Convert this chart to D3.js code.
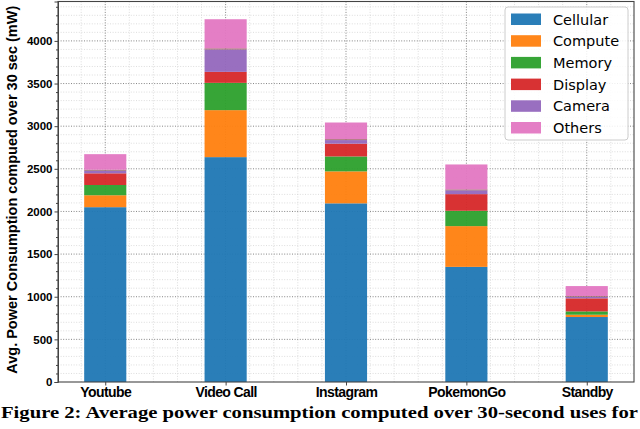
<!DOCTYPE html>
<html>
<head>
<meta charset="utf-8">
<script src="https://cdn.jsdelivr.net/npm/d3@7"></script>
<style>
  body { margin: 0; background: #fff; }
  svg { display: block; }
</style>
</head>
<body>
<div id="chart"></div>
<script>
// Data
const apps = ["Youtube", "Video Call", "Instagram", "PokemonGo", "Standby"];
const components = ["Cellular", "Compute", "Memory", "Display", "Camera", "Extra", "Others"];
const cellular = [2050, 2637, 2095, 1350, 762];
const compute = [140, 551, 375, 478, 27];
const memory = [120, 320, 175, 180, 39];
const display = [137, 129, 150, 195, 153];
const camera = [32, 263, 42, 45, 18];
const extra = [10, 12, 10, 10, 8];
const others = [183, 342, 196, 293, 118];
const yTicks = [0, 500, 1000, 1500, 2000, 2500, 3000, 3500, 4000];
const legendNames = ["Cellular", "Compute", "Memory", "Display", "Camera", "Others"];

const colors = {
  Cellular: "#1f77b4", Compute: "#ff7f0e", Memory: "#2ca02c",
  Display: "#d62728", Camera: "#9467bd", Extra: "#8c564b", Others: "#e377c2"
};

const W = 640, H = 429;
const plot = { left: 58, right: 634, top: 1.5, bottom: 382 };

const rows = apps.map((a, i) => ({
  app: a, i: i,
  Cellular: cellular[i], Compute: compute[i], Memory: memory[i],
  Display: display[i], Camera: camera[i], Extra: extra[i], Others: others[i]
}));

const svg = d3.select("#chart").append("svg")
  .attr("width", W).attr("height", H);

// Scales
const x = d3.scaleLinear().domain([-0.3925, 4.3925]).range([plot.left, plot.right]);
const y = d3.scaleLinear().domain([0, 4462]).range([plot.bottom, plot.top]);
const barW = 0.35;

// Grid, minor first
const minorX = d3.range(-0.2, 4.3, 0.2).filter(v => Math.abs(v - Math.round(v)) > 0.01);
const minorY = d3.range(100, 4462, 100).filter(v => v % 500 !== 0);

svg.append("g").selectAll("line").data(minorX).enter().append("line")
  .attr("x1", d => x(d)).attr("x2", d => x(d))
  .attr("y1", plot.top).attr("y2", plot.bottom)
  .attr("stroke", "#cfcfcf").attr("stroke-width", 0.7).attr("stroke-dasharray", "1,1.6");
svg.append("g").selectAll("line").data(minorY).enter().append("line")
  .attr("x1", plot.left).attr("x2", plot.right)
  .attr("y1", d => y(d)).attr("y2", d => y(d))
  .attr("stroke", "#cfcfcf").attr("stroke-width", 0.7).attr("stroke-dasharray", "1,1.6");

svg.append("g").selectAll("line").data(d3.range(apps.length)).enter().append("line")
  .attr("x1", d => x(d)).attr("x2", d => x(d))
  .attr("y1", plot.top).attr("y2", plot.bottom)
  .attr("stroke", "#777").attr("stroke-width", 0.9).attr("stroke-dasharray", "1,1.6");
svg.append("g").selectAll("line").data(yTicks.slice(1)).enter().append("line")
  .attr("x1", plot.left).attr("x2", plot.right)
  .attr("y1", d => y(d)).attr("y2", d => y(d))
  .attr("stroke", "#777").attr("stroke-width", 0.9).attr("stroke-dasharray", "1,1.6");

// Stacked bars
const series = d3.stack().keys(components)(rows);
svg.append("g").selectAll("g").data(series).enter().append("g")
  .attr("fill", d => colors[d.key])
  .attr("fill-opacity", 0.95)
  .selectAll("rect").data(d => d).enter().append("rect")
  .attr("x", d => x(d.data.i - barW / 2))
  .attr("width", x(barW) - x(0))
  .attr("y", d => y(d[1]))
  .attr("height", d => y(d[0]) - y(d[1]));

// Axes
const yAxis = svg.append("g")
  .attr("transform", `translate(${plot.left},0)`)
  .call(d3.axisLeft(y).tickValues(yTicks).tickSize(3.5).tickPadding(2).tickFormat(d3.format("d")));
yAxis.selectAll("text")
  .style("font-family", "'Liberation Sans', Arial, sans-serif")
  .style("font-weight", "bold").style("font-size", "11.5px").attr("fill", "#000");
svg.append("g")
  .attr("transform", `translate(${plot.left},0)`)
  .call(d3.axisLeft(y).tickValues(minorY).tickSize(2).tickFormat(""))
  .select(".domain").remove();

const xAxis = svg.append("g")
  .attr("transform", `translate(0,${plot.bottom})`)
  .call(d3.axisBottom(x).tickValues(d3.range(apps.length)).tickSize(3.5).tickPadding(2)
    .tickFormat(i => apps[i]));
xAxis.selectAll("text")
  .style("font-family", "'Liberation Sans', Arial, sans-serif")
  .style("font-weight", "bold").style("font-size", "14px")
  .style("letter-spacing", "-0.6px").attr("fill", "#000");
xAxis.select(".domain").remove();

// Frame
svg.append("rect")
  .attr("x", plot.left).attr("y", plot.top)
  .attr("width", plot.right - plot.left).attr("height", plot.bottom - plot.top)
  .attr("fill", "none").attr("stroke", "#444").attr("stroke-width", 1.1);
svg.selectAll(".tick line").attr("stroke", "#444");
svg.selectAll(".domain").attr("stroke", "#444");

// Y label
svg.append("text")
  .attr("transform", `translate(17,${(plot.top + plot.bottom) / 2 - 2}) rotate(-90)`)
  .attr("text-anchor", "middle")
  .attr("textLength", 368).attr("lengthAdjust", "spacingAndGlyphs")
  .style("font-family", "'Liberation Sans', Arial, sans-serif")
  .style("font-weight", "bold").style("font-size", "14px")
  .text("Avg. Power Consumption compued over 30 sec (mW)");

// Legend
const lg = svg.append("g").attr("transform", "translate(505,7)");
lg.append("rect").attr("width", 123).attr("height", 133).attr("rx", 3)
  .attr("fill", "#fff").attr("fill-opacity", 0.85)
  .attr("stroke", "#ccc").attr("stroke-width", 1);
const items = lg.selectAll("g.item").data(legendNames).enter().append("g")
  .attr("class", "item")
  .attr("transform", (d, i) => `translate(6,${6.5 + i * 21.7})`);
items.append("rect").attr("width", 30).attr("height", 11.5)
  .attr("fill", d => colors[d]).attr("fill-opacity", 0.95);
items.append("text").attr("x", 42).attr("y", 11)
  .style("font-family", "'DejaVu Sans', sans-serif").style("font-size", "14.5px")
  .text(d => d);

// Caption
svg.append("text")
  .attr("x", 1).attr("y", 418)
  .attr("textLength", 637).attr("lengthAdjust", "spacingAndGlyphs")
  .style("font-family", "'Liberation Serif', 'Times New Roman', serif")
  .style("font-weight", "bold").style("font-size", "17.5px")
  .text("Figure 2: Average power consumption computed over 30-second uses for");
</script>
</body>
</html>
